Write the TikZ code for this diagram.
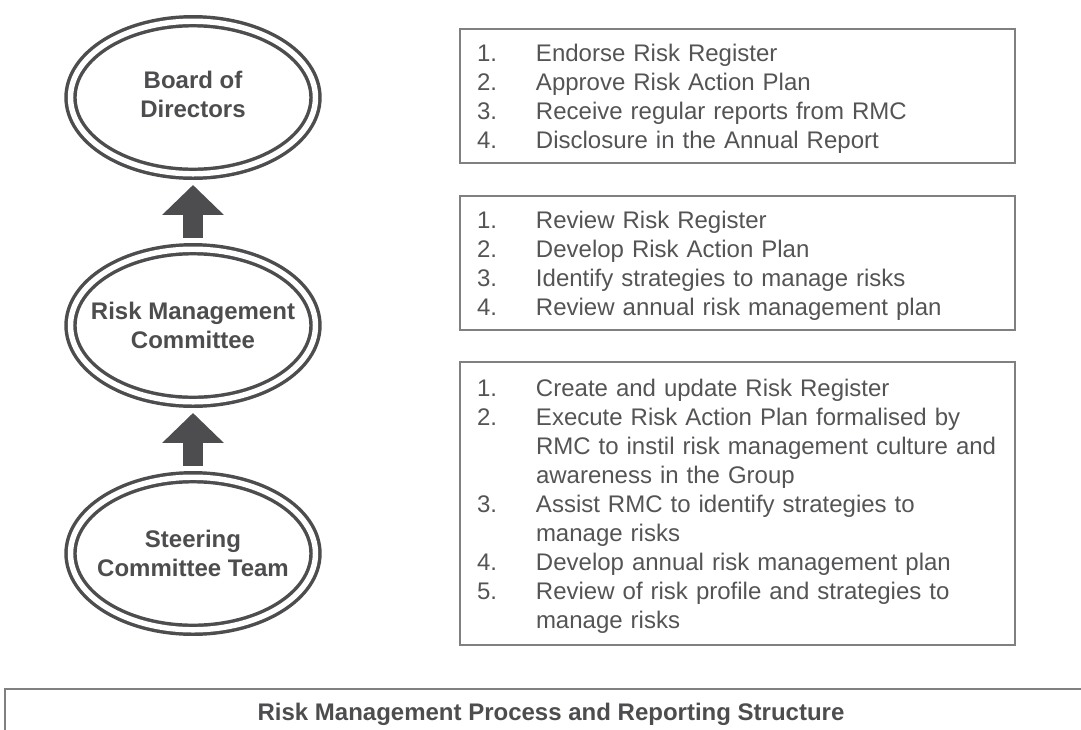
\documentclass[tikz,border=0pt]{standalone}
\usepackage{xcolor}
\usepackage{fontspec}
\setmainfont{Liberation Sans}
\usepackage{tikz}
\usetikzlibrary{shapes,arrows.meta,positioning}

\definecolor{inkgrey}{HTML}{4D4D4F}
\definecolor{rulegrey}{HTML}{808080}
\definecolor{textgrey}{HTML}{545456}
\newcommand{\itm}[2]{\makebox[44.25pt][l]{#1}\mbox{#2}}
\newcommand{\cont}[1]{\hspace*{44.25pt}\mbox{#1}}

\begin{document}
\begin{tikzpicture}[x=0.75pt, y=-0.75pt, node distance=56.6pt, >=Stealth]
                    % Define styles
                    \tikzstyle{body} = [ellipse, draw=inkgrey, line width=2.6pt, double=white, double distance=4.1pt, minimum width=183.75pt, minimum height=114.4pt, inner sep=0pt, outer sep=0pt]
                    \tikzstyle{bodytext} = [text=inkgrey, font=\bfseries\fontsize{18}{21.75}\selectfont, align=center]
                    \tikzstyle{duties} = [rectangle, draw=rulegrey, line width=1.2pt, text=textgrey, text width=390.75pt, inner xsep=12.75pt, inner ysep=0pt, minimum height=100.5pt, align=left, font=\fontsize{18}{21.75}\selectfont, outer sep=0pt, execute at begin node={\rule{0pt}{17.5pt}}]
                    \tikzstyle{uparrow} = [draw=inkgrey, line width=15pt, -{Triangle[length=22.5pt, width=45pt]}, shorten >=8.4pt, shorten <=8.4pt]
                    \tikzstyle{frame} = [draw=rulegrey, line width=1.2pt]

                    \useasboundingbox (0,0) rectangle (1081,729);

                    % Nodes
                    \node [body, label={[bodytext, yshift=2.5pt]center:{Board of\\Directors}}] (board) at (193,97.5) {};
                    \node [body, below=of board, label={[bodytext]center:{Risk Management\\Committee}}] (rmc) {};
                    \node [body, below=of rmc, label={[bodytext]center:{Steering\\Committee Team}}] (steering) {};

                    \node [duties, anchor=north west] (endorse) at (460,29) {
                      \itm{1.}{Endorse Risk Register}\\
                      \itm{2.}{Approve Risk Action Plan}\\
                      \itm{3.}{Receive regular reports from RMC}\\
                      \itm{4.}{Disclosure in the Annual Report}};
                    \node [duties, below=24.75pt of endorse] (review) {
                      \itm{1.}{Review Risk Register}\\
                      \itm{2.}{Develop Risk Action Plan}\\
                      \itm{3.}{Identify strategies to manage risks}\\
                      \itm{4.}{Review annual risk management plan}};
                    \node [duties, below=24pt of review, minimum height=212.25pt] (execute) {
                      \itm{1.}{Create and update Risk Register}\\
                      \itm{2.}{Execute Risk Action Plan formalised by}\\
                      \cont{RMC to instil risk management culture and}\\
                      \cont{awareness in the Group}\\
                      \itm{3.}{Assist RMC to identify strategies to}\\
                      \cont{manage risks}\\
                      \itm{4.}{Develop annual risk management plan}\\
                      \itm{5.}{Review of risk profile and strategies to}\\
                      \cont{manage risks}};

                    \draw [frame] (5,689) rectangle (1100,760);
                    \node [bodytext] (caption) at (551,714) {Risk Management Process and Reporting Structure};

                    % Arrows
                    \draw [uparrow] (rmc) -- (board);
                    \draw [uparrow] (steering) -- (rmc);
\end{tikzpicture}
\end{document}
